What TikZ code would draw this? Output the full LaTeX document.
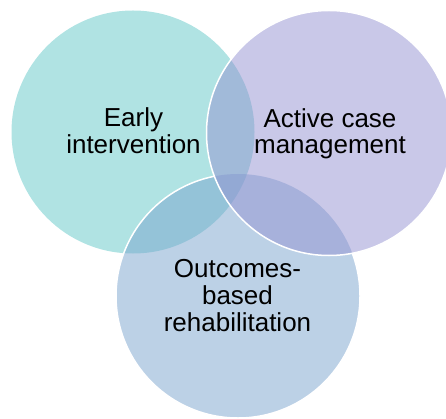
\documentclass[tikz,border=0pt]{standalone}
\usepackage{fontspec}
\setmainfont{Liberation Sans}
\definecolor{tealc}{RGB}{97,199,199}
\definecolor{purpc}{RGB}{147,145,209}
\definecolor{bluec}{RGB}{121,163,205}
\begin{document}
\begin{tikzpicture}[x=1pt,y=-1pt,
  venn/.style={fill opacity=0.5},
  rim/.style={draw=white, line width=1.5pt},
  lbl/.style={font=\fontsize{26}{26.8}\selectfont, align=center, text=black, inner sep=0pt}]
\useasboundingbox (0,0) rectangle (446,419);
\coordinate (cT) at (133,132);
\coordinate (cP) at (329,133);
\coordinate (cB) at (238,296);
\fill[tealc, venn] (cT) circle[radius=121.5];
\fill[bluec, venn] (cB) circle[radius=122];
\begin{scope}[even odd rule]
  \clip (-10,-10) rectangle (460,430) (cP) circle[radius=122.5];
  \draw[rim] (cB) circle[radius=122];
\end{scope}
\fill[purpc, venn] (cP) circle[radius=122.5];
\draw[rim] (cP) circle[radius=122.5];
\node[lbl] (early) at (133.5,131) {Early\\intervention};
\node[lbl] (active) at (330,133.8) {Active case\\management};
\node[lbl] (outcomes) at (237.5,295.7) {Outcomes-\\based\\rehabilitation};
\end{tikzpicture}
\end{document}
